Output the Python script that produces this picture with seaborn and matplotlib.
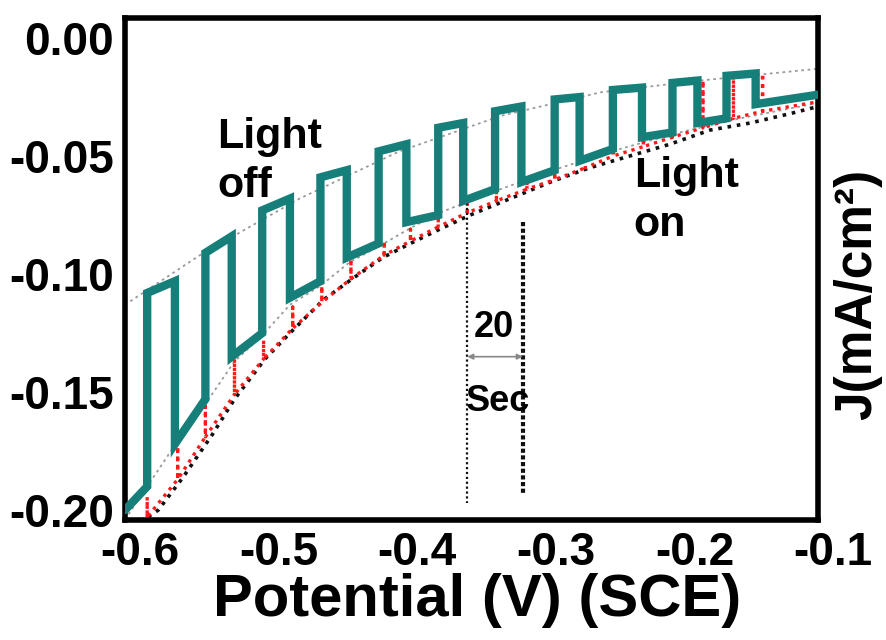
import matplotlib
matplotlib.use("Agg")
import matplotlib.pyplot as plt
import matplotlib.transforms as mtransforms
import seaborn as sns
import pandas as pd

# ---- data ----
# chopped-light photocurrent (teal)
teal_v = [-0.600, -0.584, -0.584, -0.564, -0.564, -0.542, -0.542, -0.523, -0.523, -0.501,
          -0.501, -0.481, -0.481, -0.459, -0.459, -0.440, -0.440, -0.417, -0.417, -0.397,
          -0.397, -0.374, -0.374, -0.356, -0.356, -0.333, -0.333, -0.314, -0.314, -0.290,
          -0.290, -0.272, -0.272, -0.248, -0.248, -0.227, -0.227, -0.205, -0.205, -0.187,
          -0.187, -0.166, -0.166, -0.145, -0.145, -0.100]
teal_j = [-0.200, -0.190, -0.108, -0.103, -0.172, -0.153, -0.091, -0.084, -0.135, -0.125,
          -0.073, -0.068, -0.110, -0.103, -0.059, -0.056, -0.093, -0.087, -0.048, -0.045,
          -0.078, -0.075, -0.038, -0.036, -0.069, -0.064, -0.031, -0.029, -0.061, -0.056,
          -0.026, -0.025, -0.052, -0.047, -0.022, -0.021, -0.042, -0.040, -0.019, -0.018,
          -0.036, -0.034, -0.016, -0.015, -0.028, -0.024]

# red dotted curve: base values and transient spikes at each switching potential
red_spike_v = [-0.584, -0.562, -0.542, -0.521, -0.500, -0.479, -0.458, -0.437, -0.413, -0.394, -0.374,
               -0.353, -0.332, -0.310, -0.290, -0.268, -0.248, -0.226, -0.205, -0.183, -0.161, -0.140]
red_base_j = [-0.203, -0.187, -0.169, -0.151, -0.136, -0.123, -0.112, -0.102, -0.092, -0.086, -0.080,
              -0.074, -0.069, -0.064, -0.060, -0.055, -0.050, -0.046, -0.042, -0.038, -0.034, -0.031]
red_top_j = [-0.1945, -0.173, -0.156, -0.136, -0.128, -0.114, -0.105, -0.095, -0.086, -0.081, -0.075,
             -0.070, -0.063, -0.059, -0.055, -0.054, -0.022, -0.021, -0.019, -0.018, -0.016, -0.015]
red_end_v, red_end_j = -0.100, -0.027

# black dotted (dark) curve
black_v = [-0.589, -0.576, -0.558, -0.537, -0.521, -0.499, -0.481, -0.457, -0.436, -0.414, -0.394,
           -0.373, -0.351, -0.322, -0.293, -0.265, -0.236, -0.207, -0.178, -0.149, -0.120, -0.100]
black_j = [-0.205, -0.200, -0.186, -0.168, -0.153, -0.136, -0.125, -0.111, -0.102, -0.093, -0.087,
           -0.081, -0.075, -0.068, -0.061, -0.055, -0.050, -0.045, -0.039, -0.036, -0.032, -0.029]

# grey dotted envelopes
upper_v = [-0.600, -0.546, -0.474, -0.402, -0.329, -0.257, -0.185, -0.100]
upper_j = [-0.113, -0.092, -0.068, -0.048, -0.033, -0.023, -0.018, -0.013]
lower_v = [-0.600, -0.564, -0.542, -0.521, -0.501, -0.481, -0.459, -0.438, -0.416, -0.394,
           -0.373, -0.351, -0.329, -0.286, -0.243, -0.200, -0.156, -0.100]
lower_j = [-0.204, -0.1725, -0.155, -0.137, -0.126, -0.113, -0.105, -0.095, -0.088, -0.0805,
           -0.074, -0.069, -0.064, -0.055, -0.047, -0.040, -0.034, -0.0275]

# 20 s marker lines
marker_v = [-0.353, -0.313]
marker_top = [-0.070, -0.078]
marker_bottom = [-0.197, -0.193]

x_ticks = [-0.6, -0.5, -0.4, -0.3, -0.2, -0.1]
x_tick_labels = ["-0.6", "-0.5", "-0.4", "-0.3", "-0.2", "-0.1"]
y_ticks = [0.00, -0.05, -0.10, -0.15, -0.20]
y_tick_labels = ["0.00", "-0.05", "-0.10", "-0.15", "-0.20"]

# ---- figure ----
sns.set_style("white")
plt.rcParams["font.family"] = ["Liberation Sans", "DejaVu Sans"]
plt.rcParams["font.weight"] = "bold"
for k in ["text.color", "axes.labelcolor", "xtick.color", "ytick.color"]:
    plt.rcParams[k] = "black"

fig = plt.figure(figsize=(8.86, 6.4), dpi=100)
ax = fig.add_axes([125 / 886, 1 - 520 / 640, (818 - 125) / 886, (520 - 18) / 640])

# red path built from base + spikes
red_v, red_j = [], []
for v, b, t in zip(red_spike_v, red_base_j, red_top_j):
    red_v += [v, v, v]
    red_j += [b, t, b]
red_v.append(red_end_v)
red_j.append(red_end_j)

def line(xs, ys, **kw):
    df = pd.DataFrame({"x": xs, "y": ys})
    sns.lineplot(data=df, x="x", y="y", sort=False, estimator=None, ax=ax, **kw)

line(upper_v, upper_j, color="#9a9a9a", lw=1.3, linestyle=(0, (1.5, 2.0)), zorder=2)
line(lower_v, lower_j, color="#9a9a9a", lw=1.3, linestyle=(0, (1.5, 2.0)), zorder=2)
line(black_v, black_j, color="#111111", lw=2.6, linestyle=(0, (1, 1.6)), zorder=3)
line(red_v, red_j, color="#ff1a1a", lw=2.4, linestyle=(0, (1, 1.5)), zorder=3)
line(teal_v, teal_j, color="#167f7a", lw=6, zorder=4, solid_joinstyle="miter")

for v, t, b, lw, ls in zip(marker_v, marker_top, marker_bottom, [1.6, 3.0], [(0, (1, 1.2)), (0, (1, 0.6))]):
    line([v, v], [t, b], color="#111111", lw=lw, linestyle=ls, zorder=3)

ax.annotate("", xy=(marker_v[1], -0.135), xytext=(marker_v[0], -0.135),
            arrowprops=dict(arrowstyle="<|-|>", color="#888888", lw=1.2, mutation_scale=8,
                            shrinkA=0, shrinkB=0))
ax.text(-0.3335, -0.1225, "20", fontsize=26, fontweight="bold", ha="center", va="center", zorder=5)
ax.text(-0.331, -0.1540, "Sec", fontsize=26, fontweight="bold", ha="center", va="center", zorder=5)
ax.text(-0.5336, -0.0335, "Light\noff", fontsize=31, fontweight="bold", ha="left", va="top",
        linespacing=1.3, zorder=5)
ax.text(-0.233, -0.0500, "Light\non", fontsize=31, fontweight="bold", ha="left", va="top",
        linespacing=1.3, zorder=5)

ax.set_xlim(-0.6, -0.1)
ax.set_ylim(-0.2042, 0.0085)
ax.set_xticks(x_ticks)
ax.set_xticklabels(x_tick_labels)
ax.set_yticks(y_ticks)
ax.set_yticklabels(y_tick_labels)
ax.tick_params(axis="both", length=0, labelsize=33)
ax.tick_params(axis="x", pad=8)
ax.tick_params(axis="y", pad=8)
shift = mtransforms.ScaledTranslation(15 / 100, 0, fig.dpi_scale_trans)
for lab in ax.get_xticklabels():
    lab.set_fontweight("bold")
    lab.set_transform(lab.get_transform() + shift)
for lab in ax.get_yticklabels():
    lab.set_fontweight("bold")

ax.set_xlabel("Potential (V) (SCE)", fontsize=43, fontweight="bold")
ax.xaxis.set_label_coords(0.508, -0.106)
ax.set_ylabel("J(mA/cm²)", fontsize=37, fontweight="bold")
ax.yaxis.set_label_position("right")
ax.yaxis.set_label_coords(1.022, 0.45)

for s in ax.spines.values():
    s.set_visible(True)
    s.set_linewidth(4)
    s.set_color("black")

fig.savefig("out.png", dpi=100)
